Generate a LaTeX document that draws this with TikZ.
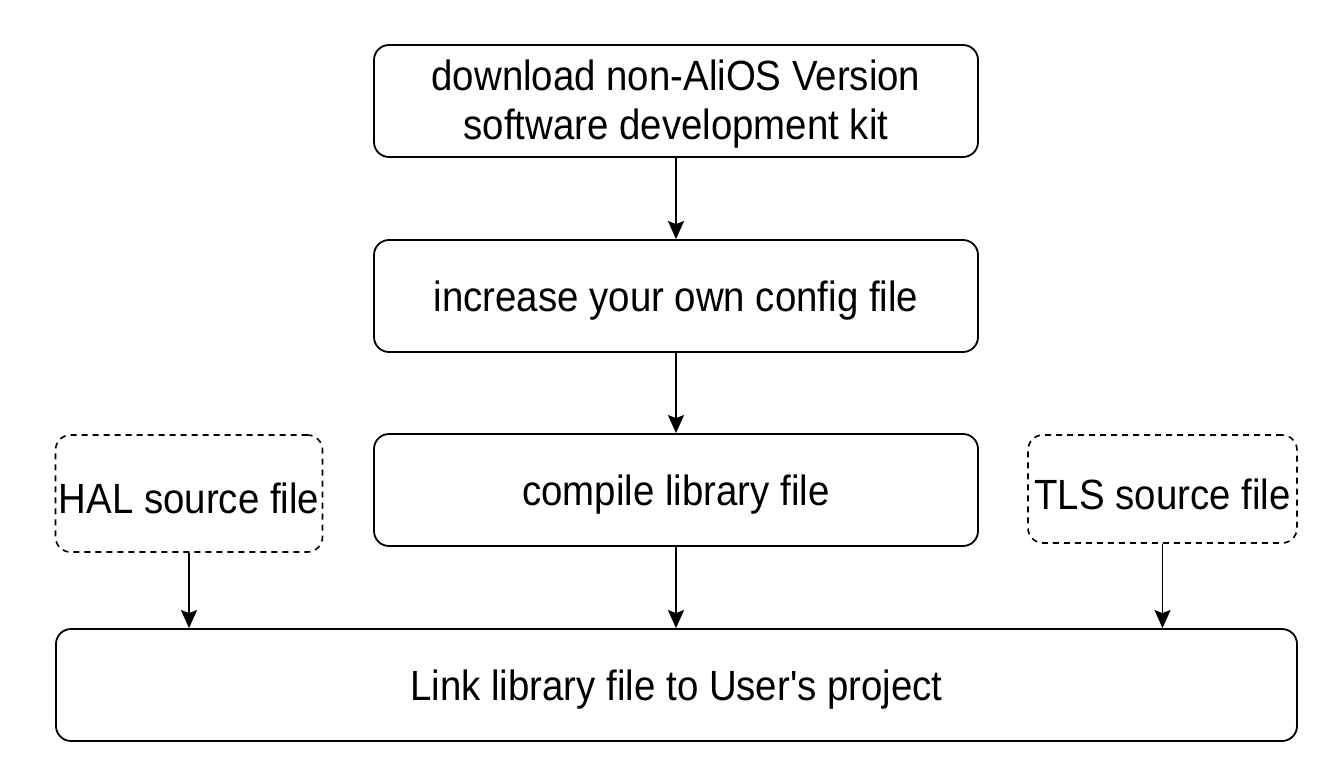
\documentclass[tikz,border=0pt]{standalone}
\usepackage{fontspec}
\newfontfamily\lsans{Liberation Sans}
\usetikzlibrary{arrows.meta}
\newcommand\tallt[1]{\raisebox{-5pt}[\height][\depth]{\scalebox{1}[1.1]{#1}}}
\tikzset{
  box/.style={draw, line width=1.8pt, rounded corners=15pt, align=center, font=\lsans\fontsize{38.4}{40}\selectfont, inner sep=0pt},
  dbox/.style={box, dashed, dash pattern=on 6pt off 5pt, line width=1.6pt},
  arr/.style={line width=1.8pt, -{Stealth[length=18pt,width=16pt,inset=3pt]}}
}
\begin{document}
\begin{tikzpicture}[x=1pt,y=-1pt]
\useasboundingbox (0,0) rectangle (1344,784);
\node[box, minimum width=604pt, minimum height=112pt] (dl) at (676,101) {\tallt{\begin{tabular}{@{}c@{}}download non-AliOS Version\\[4pt]software development kit\end{tabular}}};
\node[box, minimum width=604pt, minimum height=112pt] (cfg) at (676,296) {\tallt{increase your own config file}};
\node[box, minimum width=604pt, minimum height=112pt] (cmp) at (676,490) {\tallt{compile library file}};
\node[dbox, minimum width=267pt, minimum height=117pt] (hal) at (189,493.5) {\tallt{HAL source file}};
\node[dbox, minimum width=269pt, minimum height=108pt] (tls) at (1162.5,489) {\tallt{TLS source file}};
\node[box, minimum width=1241pt, minimum height=112pt] (lnk) at (676.5,685) {\tallt{Link library file to User's project}};
\draw[arr] (dl) -- (cfg);
\draw[arr] (cfg) -- (cmp);
\draw[arr] (cmp) -- (cmp |- lnk.north);
\draw[arr] (hal) -- (hal |- lnk.north);
\draw[arr] (tls) -- (tls |- lnk.north);
\end{tikzpicture}
\end{document}
